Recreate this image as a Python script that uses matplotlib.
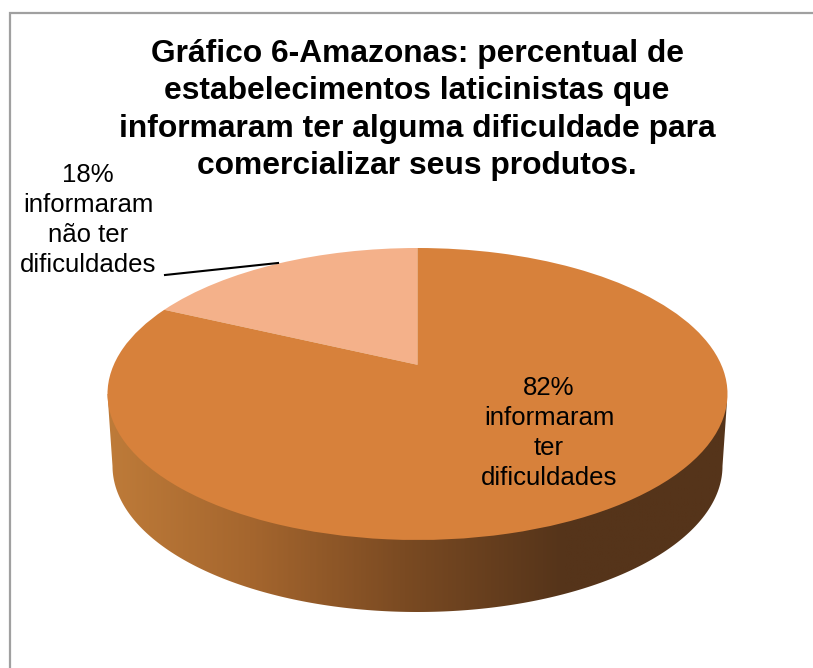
import numpy as np
import matplotlib
matplotlib.use('Agg')
import matplotlib.pyplot as plt
from matplotlib.colors import LinearSegmentedColormap
from matplotlib.patches import Polygon, Rectangle
from matplotlib.transforms import Transform

# Dados do gráfico
titulo = 'Gráfico 6-Amazonas: percentual de\nestabelecimentos laticinistas que\ninformaram ter alguma dificuldade para\ncomercializar seus produtos.'
valores = [18, 82]
rotulos = ['18%\ninformaram\nnão ter\ndificuldades', '82%\ninformaram\nter\ndificuldades']
cores = ['#F4B18A', '#D7813B']

W, H = 813, 668
CX, CY, RX, RY = 417.5, 394.0, 310.0, 146.0
TILT = 0.2  # desloca o vértice da pizza para cima (perspectiva)


class Perspectiva(Transform):
    # leva o disco unitário nele mesmo, com o centro em (0, TILT)
    input_dims = output_dims = 2
    is_separable = False

    def transform_non_affine(self, values):
        u, v = np.asarray(values).T
        w = 1 + TILT * v
        return np.column_stack((u * np.sqrt(1 - TILT**2) / w, (v + TILT) / w))


plt.rcParams['font.family'] = ['Liberation Sans', 'DejaVu Sans']
fig = plt.figure(figsize=(W / 100, H / 100), dpi=100)
ax = fig.add_axes([0, 0, 1, 1])

# Moldura: só aparecem os lados esquerdo e superior
fig.add_artist(Rectangle((10 / W, 1 - 700 / H), 900 / W, 687 / H, transform=fig.transFigure,
                         fill=False, edgecolor='#A0A0A0', lw=1.6))

# Lateral 3D com gradiente
profundidade = 72 / RY
escala = 305 / RX
t = np.linspace(np.pi, 2 * np.pi, 200)
contorno = np.column_stack((escala * np.cos(t), np.sin(t) - profundidade))
contorno = np.vstack(([-1, 0], contorno, [1, 0]))
cmap = LinearSegmentedColormap.from_list('lateral', [(0, '#BE7B39'), (0.23, '#A5662E'), (0.48, '#7A4A22'),
                                                     (0.74, '#55341A'), (1, '#55341A')])
img = ax.imshow(np.linspace(0, 1, 400)[None, :], cmap=cmap, aspect='auto', extent=(-1, 1, -1.6, 0.1))
img.set_clip_path(Polygon(contorno, transform=ax.transData))

# Topo da pizza
fatias, _ = ax.pie(valores, colors=cores, startangle=90, radius=1, center=(0, 0))
perspectiva = Perspectiva()
for fatia in fatias:
    fatia.set_transform(perspectiva + ax.transData)
    fatia.set_linewidth(0)

ax.set_aspect('auto')
ax.set_xlim(-CX / RX, (W - CX) / RX)
ax.set_ylim((CY - H) / RY, CY / RY)
ax.axis('off')


def fx(x):
    return x / W


def fy(y):
    return 1 - y / H


# Linha de chamada do rótulo menor
fig.add_artist(plt.Line2D([fx(165), fx(278)], [fy(275), fy(263)], color='black', lw=1.5))

fig.text(fx(417), fy(110), titulo, ha='center', va='center', fontsize=22.9, fontweight='bold', linespacing=1.32)
fig.text(fx(88), fy(220), rotulos[0], ha='center', va='center', fontsize=18.5, linespacing=1.33)
fig.text(fx(549), fy(433), rotulos[1], ha='center', va='center', fontsize=18.5, linespacing=1.33)

fig.savefig('out.png', dpi=100)
